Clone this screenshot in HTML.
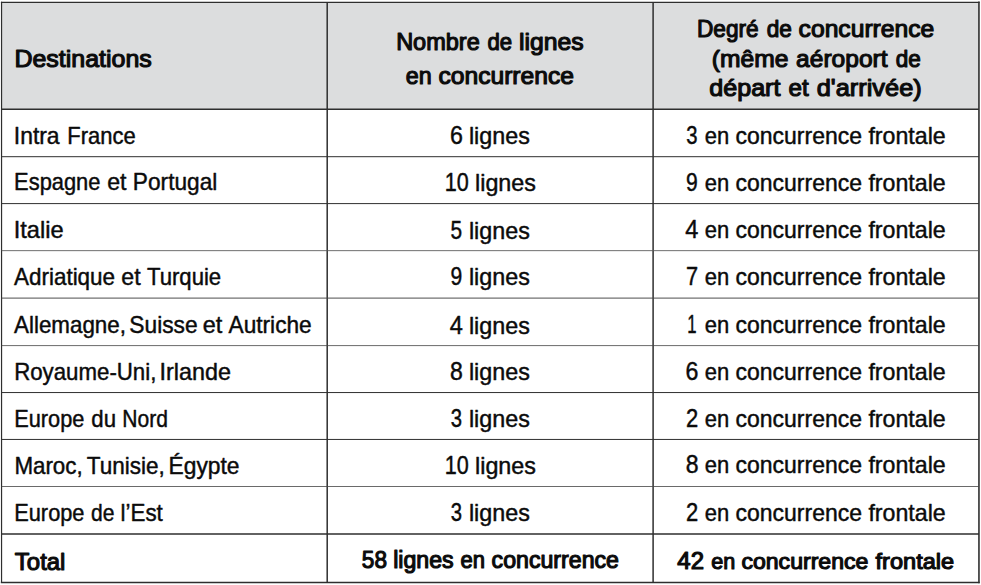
<!DOCTYPE html>
<html lang="fr">
<head>
<meta charset="utf-8">
<title>Lignes en concurrence par destination</title>
<style>
html,body{margin:0;padding:0;background:#fff;overflow:hidden;}
svg{display:block;}
text{font-family:"Liberation Sans",sans-serif;font-size:24.0px;fill:#0b0b0b;stroke:#0b0b0b;stroke-width:0.45;stroke-linejoin:round;}
text.b{font-size:24.0px;stroke-width:1.15;}
tspan{white-space:pre;}
</style>
</head>
<body>
<svg width="981" height="585" viewBox="0 0 981 585" role="table">
<rect x="1.6" y="2.4" width="977.4" height="106.9" fill="#dcddde"/>
<g stroke="#2e2e2e" stroke-width="1.5" fill="none">
<line x1="1.55" y1="2.3" x2="1.55" y2="582.5" stroke-width="1.2" stroke-linecap="square"/>
<line x1="1.55" y1="2.35" x2="978.95" y2="2.35" stroke-width="1.3" stroke-linecap="square"/>
<line x1="978.95" y1="2.3" x2="978.95" y2="582.5" stroke-width="1.6" stroke-linecap="square"/>
<line x1="1.55" y1="582.5" x2="978.95" y2="582.5" stroke-width="1.45" stroke-linecap="square"/>
<line x1="327.2" y1="2.4" x2="327.2" y2="582.5"/>
<line x1="653.1" y1="2.4" x2="653.1" y2="582.5"/>
<line x1="1.6" y1="109.25" x2="979" y2="109.25" stroke-width="1.6"/>
<line x1="1.6" y1="534.1" x2="979" y2="534.1"/>
</g>
<g fill="none">
<line x1="1.6" y1="156.7" x2="979" y2="156.7" stroke="#2f2f2f" stroke-width="1.0"/>
<line x1="1.6" y1="203.6" x2="979" y2="203.6" stroke="#2f2f2f" stroke-width="1.0"/>
<line x1="1.6" y1="250.65" x2="979" y2="250.65" stroke="#555" stroke-width="0.85"/>
<line x1="1.6" y1="298.1" x2="979" y2="298.1" stroke="#444" stroke-width="0.95"/>
<line x1="1.6" y1="345.6" x2="979" y2="345.6" stroke="#444" stroke-width="0.8"/>
<line x1="1.6" y1="392.55" x2="979" y2="392.55" stroke="#2f2f2f" stroke-width="1.0"/>
<line x1="1.6" y1="439.45" x2="979" y2="439.45" stroke="#2f2f2f" stroke-width="1.0"/>
<line x1="1.6" y1="486.5" x2="979" y2="486.5" stroke="#444" stroke-width="0.8"/>
</g>
<text y="66.7" class="b" style="font-size:24.3px"><tspan x="14.45" textLength="137.39" lengthAdjust="spacingAndGlyphs">Destinations</tspan></text>
<text y="49.5" class="b"><tspan x="396.14" textLength="83.64" lengthAdjust="spacingAndGlyphs">Nombre</tspan> <tspan x="487.49" textLength="24.67" lengthAdjust="spacingAndGlyphs">de</tspan> <tspan x="519.02" textLength="64.59" lengthAdjust="spacingAndGlyphs">lignes</tspan></text>
<text y="84.2" class="b"><tspan x="405.86" textLength="25.90" lengthAdjust="spacingAndGlyphs">en</tspan> <tspan x="438.44" textLength="135.55" lengthAdjust="spacingAndGlyphs">concurrence</tspan></text>
<text y="37.3" class="b"><tspan x="696.99" textLength="61.70" lengthAdjust="spacingAndGlyphs">Degré</tspan> <tspan x="766.69" textLength="25.19" lengthAdjust="spacingAndGlyphs">de</tspan> <tspan x="798.64" textLength="135.65" lengthAdjust="spacingAndGlyphs">concurrence</tspan></text>
<text y="66.6" class="b"><tspan x="711.85" textLength="76.67" lengthAdjust="spacingAndGlyphs">(même</tspan> <tspan x="796.13" textLength="91.43" lengthAdjust="spacingAndGlyphs">aéroport</tspan> <tspan x="895.69" textLength="25.09" lengthAdjust="spacingAndGlyphs">de</tspan></text>
<text y="96.0" class="b"><tspan x="709.23" textLength="71.25" lengthAdjust="spacingAndGlyphs">départ</tspan> <tspan x="788.55" textLength="20.15" lengthAdjust="spacingAndGlyphs">et</tspan> <tspan x="816.72" textLength="104.98" lengthAdjust="spacingAndGlyphs">d'arrivée)</tspan></text>
<text y="143.7"><tspan x="13.80" textLength="45.80" lengthAdjust="spacingAndGlyphs">Intra</tspan> <tspan x="67.31" textLength="68.37" lengthAdjust="spacingAndGlyphs">France</tspan></text>
<text y="143.5"><tspan x="449.92" textLength="12.90" lengthAdjust="spacingAndGlyphs" font-size="25.2">6</tspan> <tspan x="468.94" textLength="60.89" lengthAdjust="spacingAndGlyphs">lignes</tspan></text>
<text y="143.8"><tspan x="686.25" textLength="11.27" lengthAdjust="spacingAndGlyphs" font-size="25.2">3</tspan> <tspan x="704.87" textLength="24.46" lengthAdjust="spacingAndGlyphs">en</tspan> <tspan x="735.54" textLength="126.45" lengthAdjust="spacingAndGlyphs">concurrence</tspan> <tspan x="868.39" textLength="77.34" lengthAdjust="spacingAndGlyphs">frontale</tspan></text>
<text y="190.3"><tspan x="14.12" textLength="86.33" lengthAdjust="spacingAndGlyphs">Espagne</tspan> <tspan x="107.23" textLength="19.32" lengthAdjust="spacingAndGlyphs">et</tspan> <tspan x="132.86" textLength="84.41" lengthAdjust="spacingAndGlyphs">Portugal</tspan></text>
<text y="190.5"><tspan x="444.65" textLength="24.01" lengthAdjust="spacingAndGlyphs" font-size="25.2">10</tspan> <tspan x="475.04" textLength="60.89" lengthAdjust="spacingAndGlyphs">lignes</tspan></text>
<text y="190.6"><tspan x="686.09" textLength="11.73" lengthAdjust="spacingAndGlyphs" font-size="25.2">9</tspan> <tspan x="704.87" textLength="24.46" lengthAdjust="spacingAndGlyphs">en</tspan> <tspan x="735.54" textLength="126.45" lengthAdjust="spacingAndGlyphs">concurrence</tspan> <tspan x="868.39" textLength="77.34" lengthAdjust="spacingAndGlyphs">frontale</tspan></text>
<text y="238.2"><tspan x="13.74" textLength="49.90" lengthAdjust="spacingAndGlyphs">Italie</tspan></text>
<text y="238.6"><tspan x="450.60" textLength="11.59" lengthAdjust="spacingAndGlyphs" font-size="25.2">5</tspan> <tspan x="468.94" textLength="60.89" lengthAdjust="spacingAndGlyphs">lignes</tspan></text>
<text y="238.0"><tspan x="685.37" textLength="13.11" lengthAdjust="spacingAndGlyphs" font-size="25.2">4</tspan> <tspan x="704.87" textLength="24.46" lengthAdjust="spacingAndGlyphs">en</tspan> <tspan x="735.54" textLength="126.45" lengthAdjust="spacingAndGlyphs">concurrence</tspan> <tspan x="868.39" textLength="77.34" lengthAdjust="spacingAndGlyphs">frontale</tspan></text>
<text y="284.6"><tspan x="14.00" textLength="101.07" lengthAdjust="spacingAndGlyphs">Adriatique</tspan> <tspan x="121.33" textLength="19.32" lengthAdjust="spacingAndGlyphs">et</tspan> <tspan x="147.01" textLength="74.16" lengthAdjust="spacingAndGlyphs">Turquie</tspan></text>
<text y="285.1"><tspan x="450.49" textLength="11.73" lengthAdjust="spacingAndGlyphs" font-size="25.2">9</tspan> <tspan x="468.94" textLength="60.89" lengthAdjust="spacingAndGlyphs">lignes</tspan></text>
<text y="284.7"><tspan x="685.98" textLength="12.12" lengthAdjust="spacingAndGlyphs" font-size="25.2">7</tspan> <tspan x="704.87" textLength="24.46" lengthAdjust="spacingAndGlyphs">en</tspan> <tspan x="735.54" textLength="126.45" lengthAdjust="spacingAndGlyphs">concurrence</tspan> <tspan x="868.39" textLength="77.34" lengthAdjust="spacingAndGlyphs">frontale</tspan></text>
<text y="333.1"><tspan x="14.10" textLength="111.86" lengthAdjust="spacingAndGlyphs">Allemagne,</tspan> <tspan x="129.30" textLength="68.34" lengthAdjust="spacingAndGlyphs">Suisse</tspan> <tspan x="202.82" textLength="19.53" lengthAdjust="spacingAndGlyphs">et</tspan> <tspan x="228.50" textLength="83.24" lengthAdjust="spacingAndGlyphs">Autriche</tspan></text>
<text y="333.5"><tspan x="449.77" textLength="13.11" lengthAdjust="spacingAndGlyphs" font-size="25.2">4</tspan> <tspan x="468.94" textLength="60.89" lengthAdjust="spacingAndGlyphs">lignes</tspan></text>
<text y="333.1"><tspan x="687.18" textLength="9.29" lengthAdjust="spacingAndGlyphs" font-size="25.2">1</tspan> <tspan x="704.87" textLength="24.46" lengthAdjust="spacingAndGlyphs">en</tspan> <tspan x="735.54" textLength="126.45" lengthAdjust="spacingAndGlyphs">concurrence</tspan> <tspan x="868.39" textLength="77.34" lengthAdjust="spacingAndGlyphs">frontale</tspan></text>
<text y="379.8"><tspan x="14.20" textLength="142.16" lengthAdjust="spacingAndGlyphs">Royaume-Uni,</tspan> <tspan x="159.56" textLength="71.37" lengthAdjust="spacingAndGlyphs">Irlande</tspan></text>
<text y="380.1"><tspan x="450.09" textLength="12.82" lengthAdjust="spacingAndGlyphs" font-size="25.2">8</tspan> <tspan x="468.94" textLength="60.89" lengthAdjust="spacingAndGlyphs">lignes</tspan></text>
<text y="379.7"><tspan x="685.52" textLength="12.90" lengthAdjust="spacingAndGlyphs" font-size="25.2">6</tspan> <tspan x="704.87" textLength="24.46" lengthAdjust="spacingAndGlyphs">en</tspan> <tspan x="735.54" textLength="126.45" lengthAdjust="spacingAndGlyphs">concurrence</tspan> <tspan x="868.39" textLength="77.34" lengthAdjust="spacingAndGlyphs">frontale</tspan></text>
<text y="427.4"><tspan x="14.22" textLength="70.15" lengthAdjust="spacingAndGlyphs">Europe</tspan> <tspan x="91.27" textLength="24.73" lengthAdjust="spacingAndGlyphs">du</tspan> <tspan x="122.28" textLength="45.62" lengthAdjust="spacingAndGlyphs">Nord</tspan></text>
<text y="427.1"><tspan x="450.65" textLength="11.27" lengthAdjust="spacingAndGlyphs" font-size="25.2">3</tspan> <tspan x="468.94" textLength="60.89" lengthAdjust="spacingAndGlyphs">lignes</tspan></text>
<text y="426.8"><tspan x="685.89" textLength="12.22" lengthAdjust="spacingAndGlyphs" font-size="25.2">2</tspan> <tspan x="704.87" textLength="24.46" lengthAdjust="spacingAndGlyphs">en</tspan> <tspan x="735.54" textLength="126.45" lengthAdjust="spacingAndGlyphs">concurrence</tspan> <tspan x="868.39" textLength="77.34" lengthAdjust="spacingAndGlyphs">frontale</tspan></text>
<text y="473.5"><tspan x="14.38" textLength="68.33" lengthAdjust="spacingAndGlyphs">Maroc,</tspan> <tspan x="86.80" textLength="77.93" lengthAdjust="spacingAndGlyphs">Tunisie,</tspan> <tspan x="168.55" textLength="70.97" lengthAdjust="spacingAndGlyphs">Égypte</tspan></text>
<text y="473.9"><tspan x="444.65" textLength="24.01" lengthAdjust="spacingAndGlyphs" font-size="25.2">10</tspan> <tspan x="475.04" textLength="60.89" lengthAdjust="spacingAndGlyphs">lignes</tspan></text>
<text y="473.1"><tspan x="685.69" textLength="12.82" lengthAdjust="spacingAndGlyphs" font-size="25.2">8</tspan> <tspan x="704.87" textLength="24.46" lengthAdjust="spacingAndGlyphs">en</tspan> <tspan x="735.54" textLength="126.45" lengthAdjust="spacingAndGlyphs">concurrence</tspan> <tspan x="868.39" textLength="77.34" lengthAdjust="spacingAndGlyphs">frontale</tspan></text>
<text y="520.9"><tspan x="14.22" textLength="70.26" lengthAdjust="spacingAndGlyphs">Europe</tspan> <tspan x="91.01" textLength="23.44" lengthAdjust="spacingAndGlyphs">de</tspan> <tspan x="120.60" textLength="42.24" lengthAdjust="spacingAndGlyphs">l’Est</tspan></text>
<text y="520.9"><tspan x="450.65" textLength="11.27" lengthAdjust="spacingAndGlyphs" font-size="25.2">3</tspan> <tspan x="468.94" textLength="60.89" lengthAdjust="spacingAndGlyphs">lignes</tspan></text>
<text y="520.7"><tspan x="685.89" textLength="12.22" lengthAdjust="spacingAndGlyphs" font-size="25.2">2</tspan> <tspan x="704.87" textLength="24.46" lengthAdjust="spacingAndGlyphs">en</tspan> <tspan x="735.54" textLength="126.45" lengthAdjust="spacingAndGlyphs">concurrence</tspan> <tspan x="868.39" textLength="77.34" lengthAdjust="spacingAndGlyphs">frontale</tspan></text>
<text y="569.7" class="b" style="font-size:24.3px"><tspan x="14.83" textLength="50.60" lengthAdjust="spacingAndGlyphs">Total</tspan></text>
<text y="568.2" class="b" style="font-size:23.3px"><tspan x="361.86" textLength="25.10" lengthAdjust="spacingAndGlyphs" font-size="24.3">58</tspan> <tspan x="393.22" textLength="60.46" lengthAdjust="spacingAndGlyphs">lignes</tspan> <tspan x="460.60" textLength="24.49" lengthAdjust="spacingAndGlyphs">en</tspan> <tspan x="491.60" textLength="127.35" lengthAdjust="spacingAndGlyphs">concurrence</tspan></text>
<text y="568.6" class="b" style="font-size:22.6px"><tspan x="677.35" textLength="26.66" lengthAdjust="spacingAndGlyphs" font-size="23.2">42</tspan> <tspan x="711.22" textLength="24.04" lengthAdjust="spacingAndGlyphs">en</tspan> <tspan x="741.41" textLength="126.94" lengthAdjust="spacingAndGlyphs">concurrence</tspan> <tspan x="875.58" textLength="78.52" lengthAdjust="spacingAndGlyphs">frontale</tspan></text>
</svg>
</body>
</html>
